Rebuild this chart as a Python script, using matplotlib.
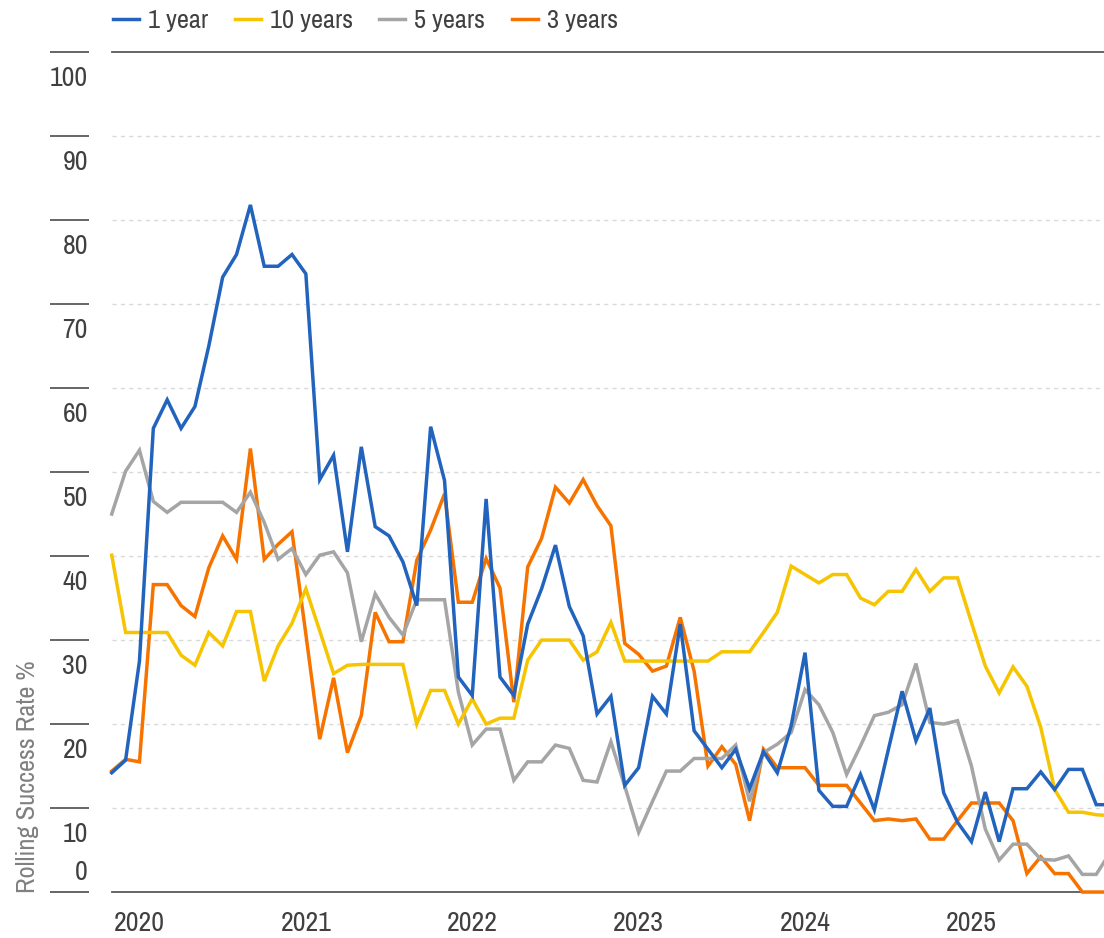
import matplotlib
matplotlib.use('Agg')
import matplotlib.pyplot as plt
from matplotlib import font_manager

# monthly observations, first one is Nov 2019
months = list(range(73))
year_labels = ['2020', '2021', '2022', '2023', '2024', '2025']
year_pos = [2, 14, 26, 38, 50, 62]
y_ticks = [0, 10, 20, 30, 40, 50, 60, 70, 80, 90, 100]

one_year = [14.2, 15.7, 27.5, 55.2, 58.6, 55.2, 57.8, 65.0, 73.2, 75.9,
            81.8, 74.5, 74.5, 75.9, 73.6, 49.1, 52.0, 40.5, 53.0, 43.5,
            42.4, 39.3, 34.1, 55.4, 49.0, 25.6, 23.4, 46.8, 25.6, 23.4,
            31.9, 36.1, 41.3, 34.0, 30.5, 21.2, 23.3, 12.7, 14.8, 23.3,
            21.2, 31.9, 19.2, 17.0, 14.8, 17.0, 12.3, 16.7, 14.2, 19.8,
            28.5, 12.1, 10.2, 10.2, 14.0, 9.8, 16.9, 23.9, 18.0, 21.9,
            11.8, 8.3, 6.0, 11.9, 6.0, 12.3, 12.3, 14.3, 12.2, 14.6,
            14.6, 10.4, 10.4]
ten_years = [40.1, 30.9, 30.9, 30.9, 30.9, 28.2, 27.0, 30.9, 29.3, 33.4,
             33.4, 25.1, 29.3, 32.0, 36.1, 31.1, 26.0, 27.0, 27.1, 27.1,
             27.1, 27.1, 20.0, 24.0, 24.0, 20.0, 23.0, 20.0, 20.7, 20.7,
             27.6, 30.0, 30.0, 30.0, 27.6, 28.6, 32.1, 27.5, 27.5, 27.5,
             27.5, 27.5, 27.5, 27.5, 28.6, 28.6, 28.6, 30.9, 33.3, 38.8,
             37.8, 36.8, 37.8, 37.8, 35.0, 34.2, 35.8, 35.8, 38.4, 35.8,
             37.4, 37.4, 32.1, 26.9, 23.7, 26.8, 24.5, 19.6, 12.2, 9.5,
             9.5, 9.2, 9.1]
five_years = [45.0, 50.1, 52.6, 46.5, 45.2, 46.4, 46.4, 46.4, 46.4, 45.2,
              47.6, 44.0, 39.6, 40.9, 37.8, 40.1, 40.5, 38.0, 29.8, 35.5,
              32.7, 30.6, 34.8, 34.8, 34.8, 23.8, 17.5, 19.4, 19.4, 13.3,
              15.5, 15.5, 17.5, 17.1, 13.3, 13.1, 17.9, 12.6, 7.1, 10.8,
              14.4, 14.4, 15.9, 15.9, 15.9, 17.5, 10.8, 16.6, 17.6, 19.0,
              24.1, 22.3, 19.0, 14.0, 17.4, 21.0, 21.4, 22.3, 27.2, 20.2,
              20.0, 20.4, 15.0, 7.5, 3.8, 5.7, 5.7, 3.9, 3.8, 4.3,
              2.1, 2.1, 4.7]
three_years = [14.4, 15.8, 15.5, 36.6, 36.6, 34.1, 32.8, 38.6, 42.4, 39.6,
               52.8, 39.6, 41.4, 42.9, 30.7, 18.2, 25.5, 16.6, 21.0, 33.3,
               29.8, 29.8, 39.5, 43.1, 47.4, 34.5, 34.5, 39.7, 36.2, 22.6,
               38.7, 42.1, 48.2, 46.3, 49.1, 46.0, 43.6, 29.6, 28.3, 26.3,
               26.9, 32.7, 26.3, 15.0, 17.3, 15.2, 8.5, 17.0, 14.8, 14.8,
               14.8, 12.7, 12.7, 12.7, 10.6, 8.5, 8.7, 8.5, 8.7, 6.3,
               6.3, 8.5, 10.6, 10.6, 10.6, 8.5, 2.2, 4.2, 2.2, 2.2,
               0.0, 0.0, 0.0]

series = [('1 year', one_year, '#2264bd'),
          ('10 years', ten_years, '#f6c400'),
          ('5 years', five_years, '#a5a5a5'),
          ('3 years', three_years, '#f77300')]
draw_order = {'3 years': 3, '5 years': 4, '10 years': 5, '1 year': 6}


def find_narrow_font():
    # look for an installed narrow face; the narrower the better here
    best = None
    for f in font_manager.fontManager.ttflist:
        if f.style != 'normal':
            continue
        if str(f.weight) not in ('400', 'normal', 'regular', 'book'):
            continue
        tag = (f.name + ' ' + str(f.stretch) + ' ' + f.fname).lower()
        tag = tag.replace('-', '').replace('_', '').replace(' ', '')
        if 'mono' in tag or 'cjk' in tag:
            continue
        if 'narrow' in tag:
            rank = 0
        elif 'extracondensed' in tag:
            rank = 1
        elif 'semicondensed' in tag:
            rank = 4
        elif 'ultracondensed' in tag:
            rank = 3
        elif 'condensed' in tag:
            rank = 2
        else:
            continue
        if 'dejavu' in tag:
            rank += 10
        if best is None or rank < best[0]:
            best = (rank, f.fname)
    return best


def main():
    narrow = find_narrow_font()
    if narrow is not None:
        fp = font_manager.FontProperties(fname=narrow[1])
        fs = 20 if narrow[0] < 10 else 18
    else:
        fp = font_manager.FontProperties(family='DejaVu Sans')
        fs = 17

    text_col = '#404040'
    axis_col = '#595959'

    fig = plt.figure(figsize=(11.04, 9.38), dpi=100)
    ax = fig.add_axes([0.1012, 0.0490, 0.8988, 0.8955])

    handles = []
    for label, vals, col in series:
        ln, = ax.plot(months, vals, color=col, lw=2.5, label=label,
                      zorder=draw_order[label], clip_on=False,
                      solid_joinstyle='miter')
        handles.append(ln)

    ax.set_xlim(0, 71.56)
    ax.set_ylim(0, 100)

    # dashed gridlines, solid top/bottom
    for v in y_ticks[1:-1]:
        ax.axhline(v, color='#d9d9d9', lw=1.0, ls=(0, (3, 3)), zorder=1)
    for s in ['left', 'right']:
        ax.spines[s].set_visible(False)
    for s in ['top', 'bottom']:
        ax.spines[s].set_color(axis_col)
        ax.spines[s].set_linewidth(1.3)

    # y ticks: pushed out from the plot, labels drawn by hand
    ax.spines['left'].set_position(('outward', 16.3))
    ax.set_yticks(y_ticks)
    ax.tick_params(axis='y', length=28, width=1.3, color=axis_col,
                   direction='out', labelleft=False)
    trans = ax.get_yaxis_transform()
    for v in y_ticks:
        ypos = v - 3.2 if v else 2.3
        ax.text(-0.024, ypos, str(v), transform=trans, ha='right',
                va='center', fontproperties=fp, fontsize=fs, color=text_col)

    ax.set_xticks(year_pos)
    ax.set_xticklabels(year_labels)
    ax.tick_params(axis='x', length=0, pad=13.5, labelcolor=text_col)
    for t in ax.get_xticklabels():
        t.set_fontproperties(fp)
        t.set_fontsize(fs)

    fig.text(28 / 1104, 0.048, 'Rolling Success Rate %', rotation=90,
             ha='center', va='bottom', fontproperties=fp, fontsize=fs - 1,
             color='#808080')

    leg_fp = fp.copy()
    leg_fp.set_size(fs - 1)
    fig.legend(handles=handles, loc='upper left',
               bbox_to_anchor=(113 / 1104, 1 - 9 / 938), ncol=4,
               frameon=False, prop=leg_fp, labelcolor=text_col,
               handlelength=0.99, handletextpad=0.34, columnspacing=1.0,
               borderpad=0, borderaxespad=0)

    plt.savefig('out.png', dpi=100)
    plt.close()


if __name__ == '__main__':
    main()
